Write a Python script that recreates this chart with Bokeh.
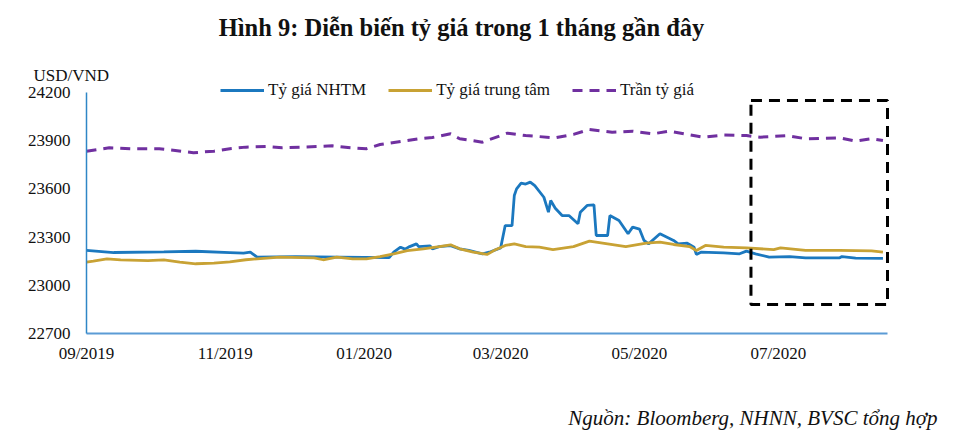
import pandas as pd
from bokeh.plotting import figure
from bokeh.models import (Range1d, FixedTicker, DatetimeTickFormatter, BoxAnnotation,
                          Legend, LegendItem, Label)
from bokeh.embed import file_html
from bokeh.resources import INLINE

# ---------------- data ----------------
title_text = "Hình 9: Diễn biến tỷ giá trong 1 tháng gần đây"
unit_text = "USD/VND"
source_text = "Nguồn: Bloomberg, NHNN, BVSC tổng hợp"

series_names = ["Tỷ giá NHTM", "Tỷ giá trung tâm", "Trần tỷ giá"]

nhtm_dates = ["2019-09-01", "2019-09-13", "2019-10-05", "2019-10-19", "2019-11-03", "2019-11-09",
              "2019-11-12", "2019-11-13", "2019-11-15", "2019-12-02", "2019-12-21", "2020-01-12",
              "2020-01-14", "2020-01-17", "2020-01-19", "2020-01-21", "2020-01-24", "2020-01-25",
              "2020-01-30", "2020-01-31", "2020-02-03", "2020-02-08", "2020-02-12", "2020-02-16",
              "2020-02-22", "2020-02-25", "2020-03-01", "2020-03-03", "2020-03-06", "2020-03-07",
              "2020-03-08", "2020-03-10", "2020-03-12", "2020-03-14", "2020-03-16", "2020-03-20",
              "2020-03-22", "2020-03-23", "2020-03-25", "2020-03-28", "2020-03-31", "2020-04-04",
              "2020-04-05", "2020-04-08", "2020-04-11", "2020-04-12", "2020-04-17", "2020-04-18",
              "2020-04-22", "2020-04-26", "2020-04-28", "2020-05-01", "2020-05-03", "2020-05-05",
              "2020-05-10", "2020-05-16", "2020-05-18", "2020-05-22", "2020-05-25", "2020-05-26",
              "2020-05-28", "2020-06-07", "2020-06-14", "2020-06-17", "2020-06-21", "2020-06-27",
              "2020-07-06", "2020-07-13", "2020-07-28", "2020-07-29", "2020-08-04", "2020-08-16"]
nhtm_values = [23217, 23204, 23208, 23212, 23204, 23200,
               23206, 23196, 23175, 23178, 23175, 23172,
               23206, 23237, 23225, 23241, 23258, 23241,
               23245, 23226, 23241, 23247, 23227, 23218,
               23196, 23206, 23233, 23372, 23372, 23559,
               23600, 23636, 23630, 23642, 23620, 23548,
               23455, 23528, 23480, 23434, 23434, 23383,
               23455, 23497, 23500, 23310, 23310, 23434,
               23403, 23321, 23362, 23350, 23279, 23258,
               23321, 23279, 23258, 23262, 23237, 23192,
               23206, 23202, 23196, 23213, 23196, 23175,
               23179, 23171, 23171, 23179, 23169, 23167]

central_dates = ["2019-09-01", "2019-09-04", "2019-09-10", "2019-09-16", "2019-09-28", "2019-10-05",
                 "2019-10-12", "2019-10-19", "2019-10-27", "2019-11-03", "2019-11-10", "2019-11-15",
                 "2019-11-25", "2019-12-10", "2019-12-14", "2019-12-20", "2019-12-27", "2020-01-02",
                 "2020-01-08", "2020-01-14", "2020-01-20", "2020-01-27", "2020-02-03", "2020-02-08",
                 "2020-02-12", "2020-02-18", "2020-02-24", "2020-02-27", "2020-03-03", "2020-03-07",
                 "2020-03-12", "2020-03-18", "2020-03-24", "2020-04-02", "2020-04-09", "2020-04-17",
                 "2020-04-25", "2020-05-04", "2020-05-10", "2020-05-16", "2020-05-23", "2020-05-26",
                 "2020-05-30", "2020-06-07", "2020-06-17", "2020-06-29", "2020-07-02", "2020-07-13",
                 "2020-07-28", "2020-08-11", "2020-08-16"]
central_values = [23144, 23150, 23165, 23158, 23154, 23158,
                  23144, 23134, 23138, 23146, 23159, 23165,
                  23175, 23171, 23159, 23175, 23165, 23165,
                  23179, 23196, 23216, 23227, 23241, 23252,
                  23227, 23206, 23192, 23216, 23248, 23258,
                  23241, 23237, 23222, 23241, 23275, 23258,
                  23241, 23262, 23269, 23254, 23241, 23217,
                  23248, 23237, 23233, 23222, 23233, 23217,
                  23217, 23214, 23206]

ceiling_dates = ["2019-09-01", "2019-09-11", "2019-09-21", "2019-10-03", "2019-10-10", "2019-10-18",
                 "2019-10-27", "2019-11-03", "2019-11-10", "2019-11-19", "2019-11-26", "2019-12-04",
                 "2019-12-11", "2019-12-18", "2019-12-26", "2020-01-02", "2020-01-08", "2020-01-12",
                 "2020-01-18", "2020-01-25", "2020-01-31", "2020-02-08", "2020-02-12", "2020-02-22",
                 "2020-03-04", "2020-03-12", "2020-03-25", "2020-04-02", "2020-04-09", "2020-04-19",
                 "2020-04-28", "2020-05-07", "2020-05-14", "2020-05-22", "2020-05-29", "2020-06-07",
                 "2020-06-17", "2020-06-23", "2020-07-05", "2020-07-13", "2020-07-28", "2020-08-04",
                 "2020-08-11", "2020-08-16"]
ceiling_values = [23835, 23856, 23850, 23850, 23839, 23825,
                  23835, 23850, 23860, 23864, 23856, 23860,
                  23864, 23868, 23856, 23850, 23876, 23885,
                  23897, 23912, 23920, 23943, 23912, 23891,
                  23947, 23932, 23918, 23939, 23970, 23953,
                  23959, 23943, 23959, 23939, 23922, 23935,
                  23932, 23922, 23932, 23912, 23918, 23897,
                  23912, 23901]

x_tick_dates = ["2019-09-01", "2019-11-01", "2020-01-01", "2020-03-01", "2020-05-01", "2020-07-01"]
x_tick_format = "%m/%Y"
y_ticks = [22700, 23000, 23300, 23600, 23900, 24200]
axis_x_start, axis_x_end = "2019-09-01", "2020-08-18"
axis_y_start, axis_y_end = 22700, 24200

# highlighted recent period (dashed box)
highlight_start, highlight_end = "2020-06-19", "2020-08-18"
highlight_low, highlight_high = 22880, 24150

# ---------------- layout (pixels) ----------------
W, H = 952, 438
AX_LEFT, AX_RIGHT, AX_TOP, AX_BOTTOM = 86, 887, 92, 333   # where the axes sit on the canvas

# ---------------- styles ----------------
SERIF = "Liberation Serif"
BLUE = "#1b78bf"
GOLD = "#c8a234"
PURPLE = "#7030a0"
AXIS_BLUE = "#5b9bd5"
TXT = "#111111"


def ts(s):
    return pd.Timestamp(s)


def ms(s):
    return ts(s).value // 10**6


# ranges chosen so the axes land where the reference draws them, with the frame
# covering the whole canvas (the axes are pinned with fixed_location)
span_ms = ms(axis_x_end) - ms(axis_x_start)
ms_per_px = span_ms / (AX_RIGHT - AX_LEFT)
x0 = ms(axis_x_start) - AX_LEFT * ms_per_px
x1 = ms(axis_x_end) + (W - AX_RIGHT) * ms_per_px
u_per_px = (axis_y_end - axis_y_start) / (AX_BOTTOM - AX_TOP)
y1 = axis_y_end + AX_TOP * u_per_px
y0 = axis_y_start - (H - AX_BOTTOM) * u_per_px

p = figure(width=W, height=H, x_axis_type="datetime", output_backend="svg",
           toolbar_location=None,
           x_range=Range1d(x0, x1), y_range=Range1d(y0, y1),
           min_border_left=0, min_border_right=0, min_border_top=0, min_border_bottom=0)
p.background_fill_color = "white"
p.border_fill_color = "white"
p.outline_line_color = None
p.xgrid.visible = False
p.ygrid.visible = False

r_nhtm = p.line(x=pd.to_datetime(nhtm_dates), y=nhtm_values, line_color=BLUE, line_width=2.8)
r_central = p.line(x=pd.to_datetime(central_dates), y=central_values, line_color=GOLD, line_width=2.8)
r_ceiling = p.line(x=pd.to_datetime(ceiling_dates), y=ceiling_values, line_color=PURPLE,
                   line_width=3, line_dash="10 7")

box = BoxAnnotation(left=ts(highlight_start), right=ts(highlight_end),
                    bottom=highlight_low, top=highlight_high,
                    fill_alpha=0, line_color="black", line_alpha=1.0, line_width=3,
                    line_dash="11 7")
p.add_layout(box)

# axes
xa = p.xaxis[0]
xa.fixed_location = axis_y_start
xa.bounds = (ms(axis_x_start), ms(axis_x_end))
xa.ticker = FixedTicker(ticks=[ms(d) for d in x_tick_dates])
xa.formatter = DatetimeTickFormatter(days=x_tick_format, months=x_tick_format, years=x_tick_format,
                                     hours=x_tick_format, minutes=x_tick_format)
xa.axis_line_color = AXIS_BLUE
xa.axis_line_width = 2
xa.major_tick_line_color = None
xa.minor_tick_line_color = None
xa.major_tick_out = 0
xa.major_tick_in = 0
xa.major_label_standoff = 10
xa.major_label_text_font = SERIF
xa.major_label_text_font_size = "17px"
xa.major_label_text_color = TXT

ya = p.yaxis[0]
ya.fixed_location = ms(axis_x_start)
ya.bounds = (axis_y_start, axis_y_end)
ya.ticker = FixedTicker(ticks=y_ticks)
ya.axis_line_color = "#2f86c6"
ya.axis_line_width = 1.5
ya.major_tick_line_color = None
ya.minor_tick_line_color = None
ya.major_tick_out = 0
ya.major_tick_in = 0
ya.major_label_standoff = 16
ya.major_label_text_font = SERIF
ya.major_label_text_font_size = "17px"
ya.major_label_text_color = TXT

legend = Legend(items=[LegendItem(label=series_names[0], renderers=[r_nhtm]),
                       LegendItem(label=series_names[1], renderers=[r_central]),
                       LegendItem(label=series_names[2], renderers=[r_ceiling])],
                location=(220, H - 100), orientation="horizontal", padding=0, margin=0,
                spacing=22, label_standoff=4, glyph_width=44, glyph_height=18,
                label_height=18, border_line_color=None, background_fill_alpha=0,
                label_text_font=SERIF, label_text_font_size="17px",
                label_text_color=TXT)
p.add_layout(legend)

p.add_layout(Label(x=461, y=H - 27, x_units="screen", y_units="screen", text=title_text,
                   text_font=SERIF, text_font_style="bold", text_font_size="24.5px",
                   text_align="center", text_baseline="middle", text_color=TXT))
p.add_layout(Label(x=33, y=H - 75, x_units="screen", y_units="screen", text=unit_text,
                   text_font=SERIF, text_font_size="17px",
                   text_align="left", text_baseline="middle", text_color=TXT))
p.add_layout(Label(x=937, y=H - 417, x_units="screen", y_units="screen", text=source_text,
                   text_font=SERIF, text_font_style="italic", text_font_size="21px",
                   text_align="right", text_baseline="middle", text_color=TXT))

open("out.html", "w").write(file_html(p, INLINE))
